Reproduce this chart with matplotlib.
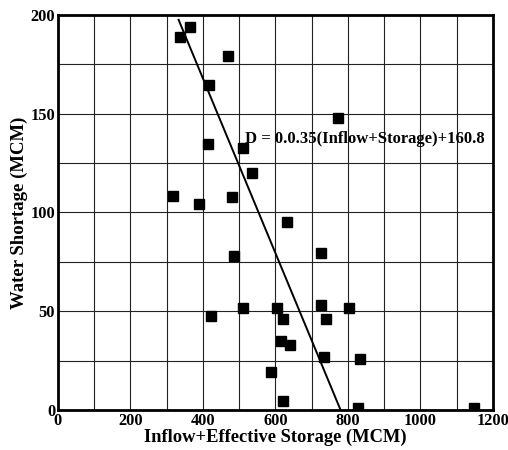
import matplotlib
matplotlib.use("Agg")
import matplotlib.pyplot as plt

# inflow + effective storage (MCM) vs water shortage (MCM)
inflow_storage = [337, 364, 469, 417, 414, 510, 535, 772, 317, 389, 480,
                  632, 726, 486, 422, 510, 604, 621, 725, 739, 803, 615,
                  640, 734, 835, 588, 621, 827, 1148]
shortage = [189, 194, 179, 164.6, 134.5, 132.5, 120, 148, 108.5, 104, 108,
            95, 79.5, 78, 47.6, 51.6, 51.6, 46, 53, 46, 51.6, 35,
            33, 27, 25.8, 19, 4.5, 1, 1]

# fitted line as drawn
fit_x = [333, 780]
fit_y = [197.5, 0]
fit_label = "D = 0.0.35(Inflow+Storage)+160.8"

x_ticks = [0, 200, 400, 600, 800, 1000, 1200]
y_ticks = [0, 50, 100, 150, 200]

plt.rcParams["font.family"] = ["Liberation Serif", "DejaVu Serif"]
plt.rcParams["font.weight"] = "bold"

fig = plt.figure(figsize=(5.08, 4.5), dpi=100)
ax = fig.add_axes([0.114, 0.089, 0.856, 0.878])

ax.plot(fit_x, fit_y, color="black", linewidth=1.4, zorder=3)
ax.plot(inflow_storage, shortage, "s", color="black", markersize=7, zorder=4)

ax.text(516, 135, fit_label, fontsize=12, fontweight="bold", zorder=5)

ax.set_xlim(0, 1200)
ax.set_ylim(0, 200)
ax.set_xticks(x_ticks)
ax.set_yticks(y_ticks)
ax.set_xticks(range(0, 1201, 100), minor=True)
ax.set_yticks(range(0, 201, 25), minor=True)
ax.grid(True, which="both", color="#222222", linewidth=0.8)
ax.tick_params(which="both", direction="in", length=0, labelsize=11.8, pad=2)
for lbl in ax.get_xticklabels() + ax.get_yticklabels():
    lbl.set_fontweight("bold")
for s in ax.spines.values():
    s.set_linewidth(2)

ax.set_xlabel("Inflow+Effective Storage (MCM)", fontsize=13.3, fontweight="bold", labelpad=0)
ax.set_ylabel("Water Shortage (MCM)", fontsize=13.5, fontweight="bold", labelpad=2)

fig.savefig("out.png", dpi=100)
